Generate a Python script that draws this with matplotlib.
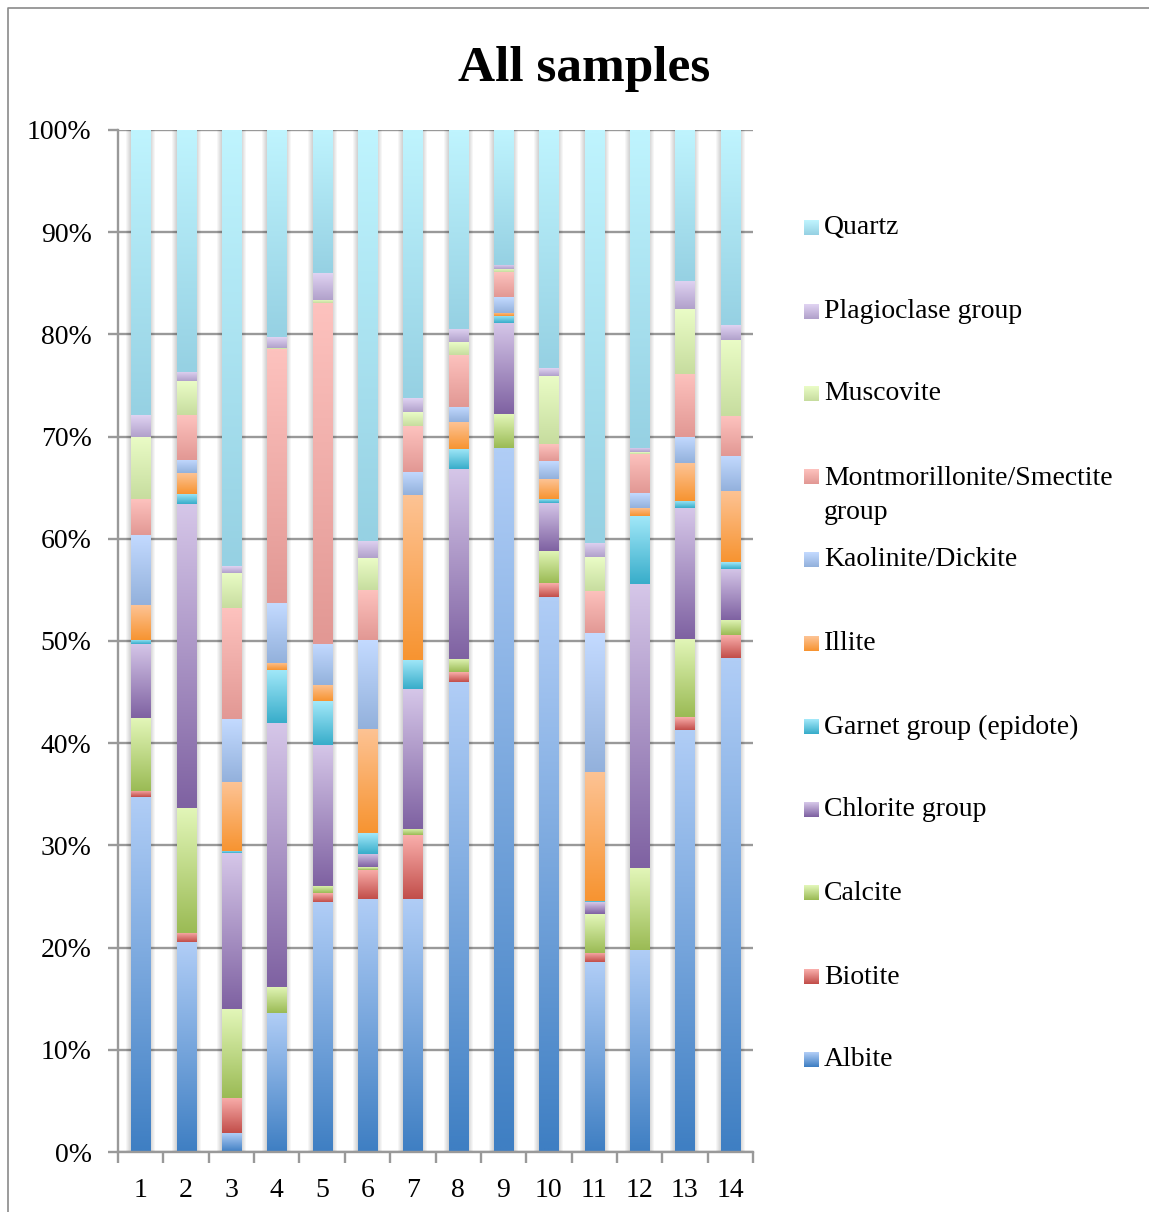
import numpy as np
import matplotlib.pyplot as plt
from matplotlib.colors import to_rgb
from matplotlib.patches import Rectangle
from matplotlib.ticker import FuncFormatter, FixedLocator

plt.rcParams['font.family'] = ['Liberation Serif', 'DejaVu Serif']

samples = [str(i) for i in range(1, 15)]

# percent of each mineral per sample, stacked bottom to top
albite = [34.7, 20.5, 1.85, 13.6, 24.47, 24.77, 24.77, 46.0, 68.91, 54.3, 18.58, 19.81, 41.3, 48.35]
biotite = [0.65, 0.9, 3.45, 0.0, 0.86, 2.84, 6.25, 0.96, 0.0, 1.36, 0.9, 0.0, 1.26, 2.21]
calcite = [7.1, 12.3, 8.7, 2.55, 0.7, 0.27, 0.59, 1.29, 3.31, 3.15, 3.8, 7.97, 7.64, 1.49]
chlorite = [7.25, 29.7, 15.25, 25.8, 13.82, 1.29, 13.69, 18.57, 8.91, 4.7, 1.16, 27.78, 12.81, 5.0]
garnet = [0.4, 1.0, 0.25, 5.2, 4.25, 2.05, 2.85, 1.99, 0.69, 0.4, 0.1, 6.66, 0.7, 0.67]
illite = [3.4, 2.0, 6.7, 0.7, 1.6, 10.18, 16.15, 2.61, 0.3, 1.95, 12.63, 0.79, 3.71, 6.95]
kaolinite = [6.9, 1.3, 6.15, 5.85, 4.04, 8.7, 2.26, 1.49, 1.56, 1.76, 13.59, 1.46, 2.55, 3.44]
montmorillonite = [3.5, 4.4, 10.85, 24.85, 33.31, 4.9, 4.5, 5.1, 2.38, 1.65, 4.17, 3.84, 6.19, 3.91]
muscovite = [6.1, 3.3, 3.5, 0.15, 0.35, 3.1, 1.36, 1.26, 0.36, 6.69, 3.28, 0.17, 6.36, 7.45]
plagioclase = [2.1, 0.9, 0.6, 1.07, 2.6, 1.67, 1.35, 1.29, 0.4, 0.76, 1.39, 0.43, 2.74, 1.46]
quartz = [27.9, 23.7, 42.7, 20.23, 14.0, 40.23, 26.23, 19.44, 13.18, 23.28, 40.4, 31.09, 14.74, 19.07]

names = ['Albite', 'Biotite', 'Calcite', 'Chlorite group', 'Garnet group (epidote)',
         'Illite', 'Kaolinite/Dickite', 'Montmorillonite/Smectite\ngroup',
         'Muscovite', 'Plagioclase group', 'Quartz']
series = [albite, biotite, calcite, chlorite, garnet, illite, kaolinite,
          montmorillonite, muscovite, plagioclase, quartz]

# gradient colours (top, bottom) for each series
shades = [('#b0cdf6', '#3f7fc3'),
          ('#f9aeab', '#c24e4a'),
          ('#e2f6b8', '#9bbb55'),
          ('#d5c6e8', '#7f62a2'),
          ('#a2e8f9', '#38adca'),
          ('#fdc394', '#f79431'),
          ('#c3daff', '#93b1dc'),
          ('#fdc2be', '#e29894'),
          ('#eafcc6', '#c7dd9f'),
          ('#e0d3f2', '#b1a1cb'),
          ('#bff4fe', '#96d1e3')]


def gradient(top, bottom, n=64):
    t = np.linspace(0, 1, n)[:, None]
    a = np.array(to_rgb(top))
    b = np.array(to_rgb(bottom))
    return (a * (1 - t) + b * t)[:, None, :]


fig = plt.figure(figsize=(11.49, 12.12), dpi=100)
ax = fig.add_axes([118 / 1149, 1 - 1152 / 1212, (753 - 118) / 1149, (1152 - 130) / 1212])

x = np.arange(1, 15)
width = 0.42
px = 1 / 45.36

# soft shadow behind each column
for xi in x:
    for k in range(1, 6):
        ax.add_patch(Rectangle((xi - width / 2 - k * px, -0.2), width + 2 * k * px, 100.6,
                               facecolor='k', alpha=0.035, lw=0, zorder=1.5))

bottom = np.zeros(14)
for vals, (top_c, bot_c) in zip(series, shades):
    vals = np.array(vals)
    bars = ax.bar(x, vals, width, bottom=bottom, color=bot_c, lw=0, zorder=2)
    grad = gradient(top_c, bot_c)
    for patch in bars:
        h = patch.get_height()
        if h <= 0:
            continue
        x0 = patch.get_x()
        y0 = patch.get_y()
        im = ax.imshow(grad, extent=(x0, x0 + patch.get_width(), y0, y0 + h),
                       aspect='auto', interpolation='bilinear', zorder=2.1)
        im.set_clip_path(patch)
    bottom += vals

ax.set_xlim(0.5, 14.5)
ax.set_ylim(0, 100)

grid_c = '#999999'
ax.set_yticks(np.arange(0, 101, 10))
ax.yaxis.set_major_formatter(FuncFormatter(lambda v, p: '%d%%' % v))
ax.yaxis.grid(True, color=grid_c, lw=1.7, zorder=1)
ax.set_axisbelow(True)

ax.xaxis.set_major_locator(FixedLocator(np.arange(0.5, 15, 1)))
ax.xaxis.set_major_formatter(FuncFormatter(lambda v, p: ''))
ax.xaxis.set_minor_locator(FixedLocator(x))
ax.set_xticklabels(samples, minor=True)
ax.tick_params(axis='x', which='minor', length=0, pad=19, labelsize=20)
ax.tick_params(axis='x', which='major', length=8, width=1.7, color=grid_c, direction='out')
ax.tick_params(axis='y', length=7, width=1.7, color=grid_c, direction='out', pad=12, labelsize=20)

for side in ['top', 'right']:
    ax.spines[side].set_visible(False)
for side in ['left', 'bottom']:
    ax.spines[side].set_color(grid_c)
    ax.spines[side].set_linewidth(1.7)

# overlay in pixel coordinates for title, legend and frame
ov = fig.add_axes([0, 0, 1, 1], zorder=5)
ov.set_xlim(0, 1149)
ov.set_ylim(1212, 0)
ov.axis('off')
ov.patch.set_alpha(0)

ov.plot([8, 8, 1149], [1212, 8, 8], color='#8a8a8a', lw=1.2)
ov.text(584, 69, 'All samples', ha='center', va='center', fontsize=37, fontweight='bold')

legend_y = [1060, 977, 893, 810, 727, 644, 560, 477, 394, 312, 228]
for name, (top_c, bot_c), ly in zip(names, shades, legend_y):
    ov.imshow(gradient(top_c, bot_c, 16), extent=(804, 819, ly + 7.5, ly - 7.5),
              aspect='auto', interpolation='bilinear')
    if '\n' in name:
        ov.text(824, ly - 11, name, ha='left', va='top', fontsize=20, linespacing=1.45)
    else:
        ov.text(824, ly, name, ha='left', va='center', fontsize=20)
ov.set_xlim(0, 1149)
ov.set_ylim(1212, 0)

fig.savefig('out.png', dpi=100)
